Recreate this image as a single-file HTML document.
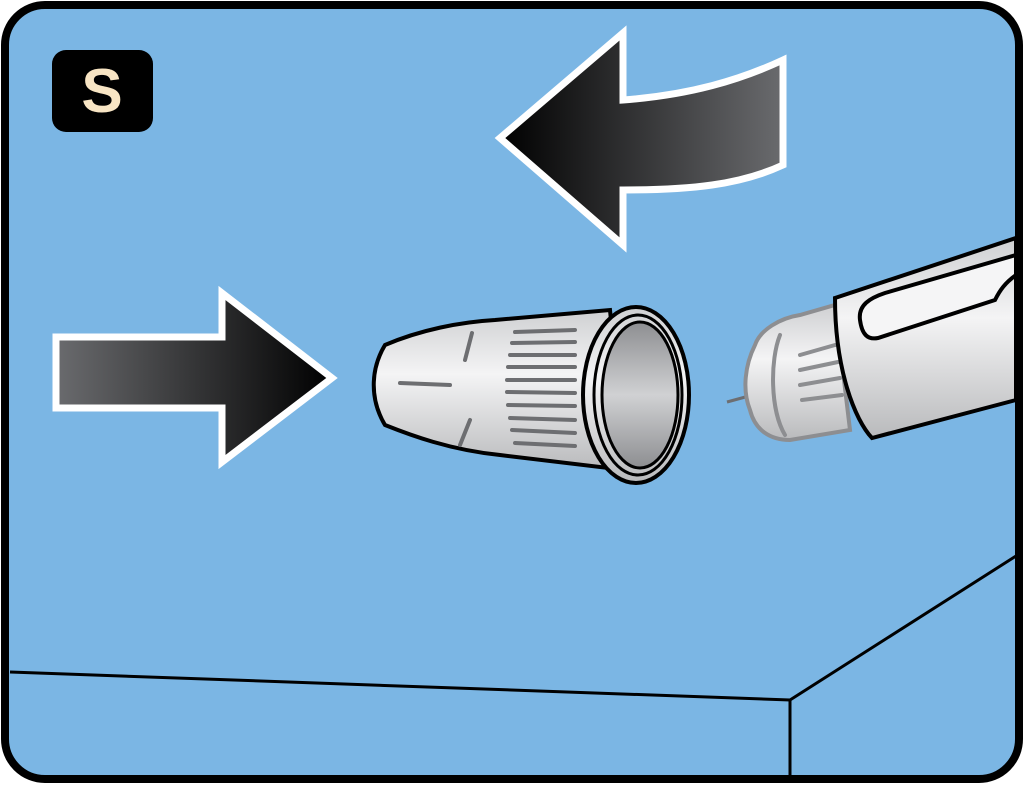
<!DOCTYPE html>
<html><head><style>html,body{margin:0;padding:0;background:#fff}svg{display:block}</style></head>
<body>
<svg width="1024" height="785" viewBox="0 0 1024 785" xmlns="http://www.w3.org/2000/svg">
<defs>
<linearGradient id="ga" x1="0" x2="1" y1="0" y2="0"><stop offset="0" stop-color="#6a6b6e"/><stop offset="1" stop-color="#000"/></linearGradient>
<linearGradient id="gb" x1="0" x2="1" y1="0" y2="0"><stop offset="0" stop-color="#000"/><stop offset="1" stop-color="#6a6b6e"/></linearGradient>
<linearGradient id="gm" x1="0" x2="0" y1="0" y2="1"><stop offset="0" stop-color="#cfd0d2"/><stop offset="0.4" stop-color="#f4f4f5"/><stop offset="1" stop-color="#b9babc"/></linearGradient>
<linearGradient id="gi" x1="0" x2="0" y1="0" y2="1"><stop offset="0" stop-color="#8d8e91"/><stop offset="0.5" stop-color="#d0d1d3"/><stop offset="1" stop-color="#8d8e91"/></linearGradient>
</defs>
<rect x="5" y="5" width="1014" height="774" rx="40" fill="#7bb6e4" stroke="#000" stroke-width="8"/>
<rect x="52" y="50" width="101" height="82" rx="14" fill="#000"/>
<text x="102" y="112" text-anchor="middle" font-family="Liberation Sans, sans-serif" font-weight="bold" font-size="62" fill="#f8e5c4">S</text>
<!-- table -->
<polyline points="10,672 790,700 1016,556" fill="none" stroke="#000" stroke-width="3"/>
<line x1="790" y1="700" x2="790" y2="778" stroke="#000" stroke-width="3"/>
<!-- right arrow -->
<polygon points="56,337 222,337 222,293 332,378 222,462 222,408 56,408" fill="url(#ga)" stroke="#fff" stroke-width="7" stroke-linejoin="miter"/>
<!-- curved left arrow -->
<path d="M500,138 L623,33 L623,100 C690,95 740,80 783,60 L783,165 C740,185 690,190 623,190 L623,245 Z" fill="url(#gb)" stroke="#fff" stroke-width="7"/>
<!-- nozzle cap -->
<path d="M385,345 C420,330 460,322 495,320 L610,310 L625,470 L500,455 C450,450 410,435 385,425 C370,400 370,370 385,345 Z" fill="url(#gm)" stroke="#000" stroke-width="4"/>
<g stroke="#6d6e71" stroke-width="4" stroke-linecap="round">
<line x1="400" y1="383" x2="450" y2="385"/>
<line x1="472" y1="333" x2="465" y2="360"/><line x1="470" y1="420" x2="460" y2="445"/>
<line x1="515" y1="332" x2="575" y2="330"/><line x1="512" y1="343" x2="575" y2="342"/><line x1="510" y1="355" x2="575" y2="355"/><line x1="508" y1="367" x2="575" y2="367"/><line x1="507" y1="380" x2="575" y2="380"/><line x1="507" y1="392" x2="575" y2="393"/><line x1="508" y1="405" x2="575" y2="406"/><line x1="510" y1="418" x2="575" y2="420"/><line x1="512" y1="430" x2="575" y2="433"/><line x1="515" y1="443" x2="575" y2="446"/>
</g>
<ellipse cx="636" cy="395" rx="53" ry="88" fill="url(#gm)" stroke="#000" stroke-width="4"/>
<ellipse cx="638" cy="395" rx="44" ry="80" fill="none" stroke="#000" stroke-width="3"/>
<ellipse cx="640" cy="395" rx="38" ry="73" fill="url(#gi)" stroke="#000" stroke-width="3"/>
<!-- needle -->
<line x1="648" y1="400" x2="760" y2="400" stroke="none"/>
<line x1="727" y1="402" x2="760" y2="393" stroke="#6d6e71" stroke-width="3"/>
<!-- hub -->
<path d="M755,345 C760,330 780,318 800,315 L835,305 L850,430 L790,440 C770,440 755,430 750,410 C742,390 745,365 755,345 Z" fill="url(#gm)" stroke="#8d8e91" stroke-width="4"/>
<g stroke="#8d8e91" stroke-width="4" stroke-linecap="round" fill="none">
<path d="M780,335 C770,360 770,410 785,435"/>
<line x1="800" y1="355" x2="835" y2="345"/><line x1="800" y1="370" x2="838" y2="362"/><line x1="800" y1="385" x2="840" y2="378"/><line x1="802" y1="400" x2="842" y2="395"/>
</g>
<!-- pen body -->
<path d="M835,298 L1016,238 L1016,400 L872,438 C855,420 835,370 835,298 Z" fill="url(#gm)" stroke="#000" stroke-width="4"/>
<path d="M860,320 C858,305 870,298 885,293 L1016,255 L1016,275 C1005,283 1000,290 995,300 L878,338 C868,340 862,335 860,320 Z" fill="#f5f5f6" stroke="#000" stroke-width="4"/>
</svg>
</body></html>
